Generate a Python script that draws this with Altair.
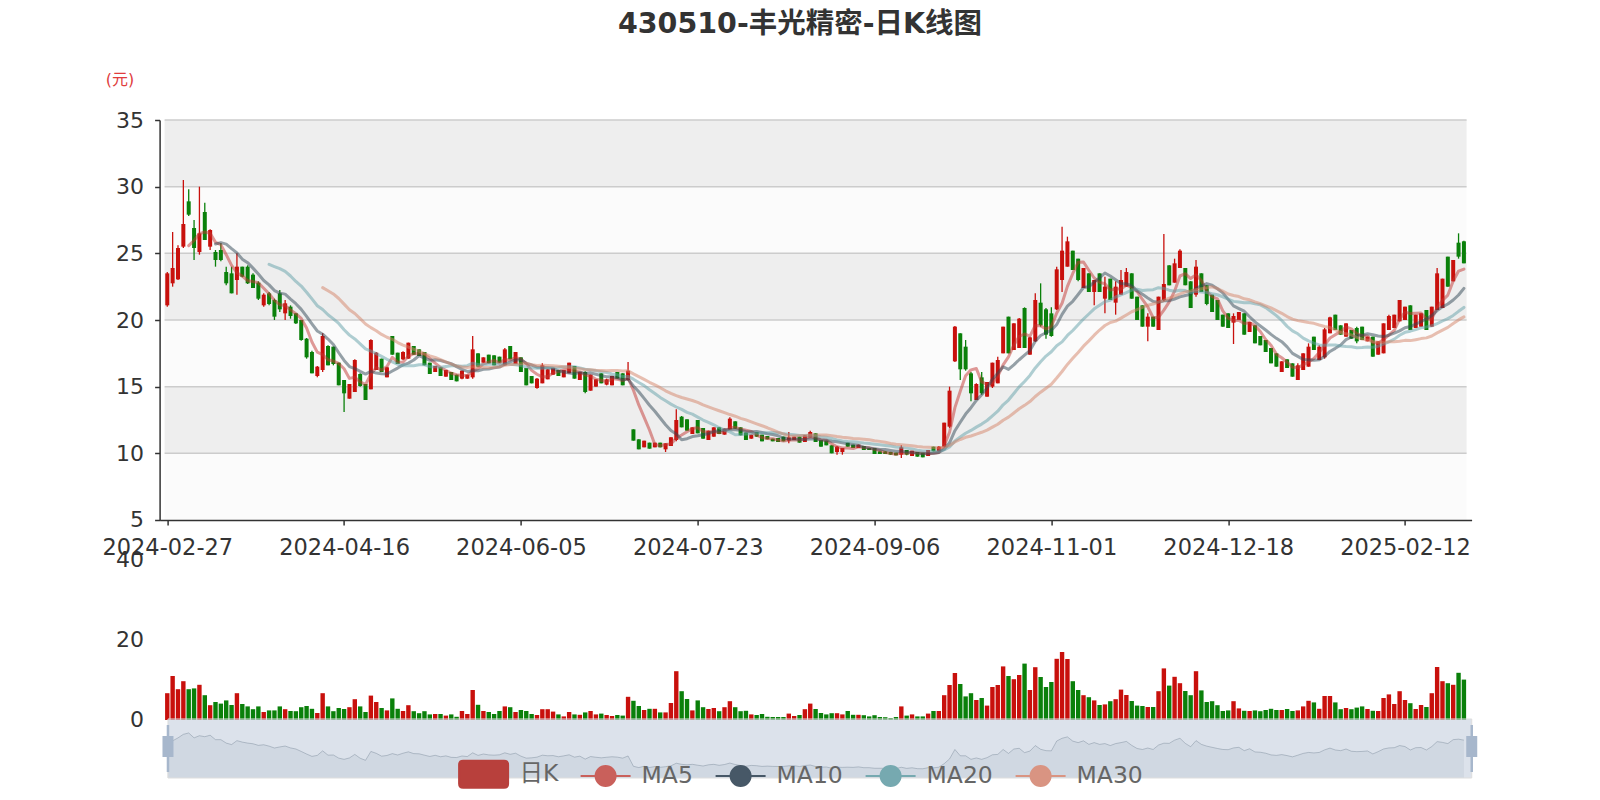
import json
import altair as alt
import pandas as pd

# ---------------- data ----------------
title_text = "430510-丰光精密-日K线图"
unit_label = "(元)"
tick_labels = ["2024-02-27", "2024-04-16", "2024-06-05", "2024-07-23",
               "2024-09-06", "2024-11-01", "2024-12-18", "2025-02-12"]
tick_index = [0, 33, 66, 99, 132, 165, 198, 231]
price_ticks = [5, 10, 15, 20, 25, 30, 35]
volume_ticks = [0, 20, 40]
legend_names = ["日K", "MA5", "MA10", "MA20", "MA30"]
ma_windows = [5, 10, 20, 30]

opens = [
    21.1, 22.75, 23.05, 25.5, 28.9, 26.9, 25.1, 28.1, 25.5, 25.1,
    25.25, 23.6, 23.5, 23.0, 24.0, 24.0, 23.4, 22.8, 21.1, 22.0,
    21.5, 22.0, 20.5, 21.0, 20.5, 20.0, 18.6, 17.6, 15.8, 16.25,
    18.05, 18.0, 16.8, 15.5, 14.1, 14.6, 15.95, 15.2, 14.8, 16.25,
    17.1, 15.7, 18.8, 17.55, 17.05, 17.1, 18.05, 17.8, 17.6, 16.8,
    16.1, 16.45, 15.75, 16.1, 15.9, 15.6, 15.6, 15.7, 17.5, 16.8,
    17.4, 17.35, 17.25, 16.6, 18.05, 16.7, 17.2, 16.4, 15.8, 14.9,
    15.25, 15.55, 15.9, 16.25, 15.7, 16.0, 16.55, 15.5, 16.1, 14.7,
    15.0, 16.0, 15.15, 15.1, 16.1, 16.0, 15.5, 11.8, 11.05, 10.45,
    10.8, 10.45, 10.8, 10.3, 10.55, 11.0, 12.75, 12.55, 11.45, 12.5,
    11.9, 11.0, 11.25, 11.95, 11.4, 11.8, 12.4, 11.95, 11.55, 11.1,
    11.6, 11.4, 11.3, 11.1, 11.15, 11.25, 10.95, 11.0, 11.25, 10.85,
    11.2, 11.5, 11.0, 10.95, 10.6, 10.1, 10.1, 10.8, 10.65, 10.4,
    10.55, 10.4, 10.4, 10.15, 10.15, 10.1, 10.05, 9.9, 10.25, 9.8,
    10.1, 10.05, 9.8, 10.5, 10.15, 10.5, 12.0, 16.9, 19.0, 18.0,
    16.0, 14.0, 15.7, 14.25, 15.0, 15.25, 17.5, 20.25, 17.75, 17.9,
    20.9, 17.4, 18.4, 21.3, 20.8, 20.5, 20.8, 23.0, 24.0, 25.2,
    24.6, 22.4, 23.5, 22.1, 23.5, 21.6, 23.1, 21.3, 21.9, 22.5,
    23.5, 21.75, 21.1, 19.5, 20.25, 19.25, 21.5, 24.1, 22.8, 23.9,
    23.9, 22.9, 21.9, 23.5, 22.6, 21.9, 21.5, 20.4, 20.5, 19.8,
    20.0, 20.5, 19.1, 19.6, 18.8, 18.5, 17.9, 17.5, 16.1, 17.05,
    16.75, 15.5, 16.25, 16.5, 18.75, 17.0, 17.2, 19.0, 20.4, 19.6,
    18.75, 19.25, 19.4, 19.5, 18.4, 18.75, 17.4, 17.5, 19.25, 19.4,
    19.9, 20.0, 21.1, 19.4, 19.5, 20.75, 19.5, 20.75, 20.9, 24.75,
    22.9, 25.8, 25.9,
]
closes = [
    23.5, 23.9, 25.4, 27.2, 27.9, 25.4, 26.5, 26.0, 26.75, 24.5,
    24.5, 22.75, 22.0, 24.0, 23.25, 22.75, 22.4, 21.6, 21.9, 21.2,
    20.25, 20.8, 21.25, 20.3, 19.75, 18.5, 17.2, 16.0, 16.5, 18.8,
    16.6, 16.7, 15.1, 14.5, 15.2, 17.0, 15.05, 14.0, 18.5, 17.55,
    16.1, 16.45, 17.4, 16.7, 17.6, 18.3, 17.4, 17.3, 16.6, 15.95,
    16.55, 15.8, 16.25, 15.5, 15.4, 16.2, 15.9, 17.8, 16.5, 17.2,
    16.75, 16.6, 16.8, 17.8, 17.05, 17.6, 16.1, 15.1, 15.25, 15.6,
    16.6, 16.3, 16.4, 15.8, 16.25, 16.8, 15.6, 16.1, 14.6, 15.9,
    15.55, 15.25, 15.55, 15.8, 15.6, 15.1, 16.2, 10.95, 10.3, 10.95,
    10.35, 10.8, 10.45, 10.75, 11.2, 12.5, 11.95, 11.7, 11.95, 11.5,
    11.1, 11.7, 11.95, 11.45, 11.85, 12.6, 11.85, 11.35, 11.0, 11.4,
    11.25, 10.9, 11.05, 10.9, 10.85, 10.9, 11.2, 11.25, 10.8, 11.35,
    11.6, 10.85, 10.5, 10.6, 10.0, 10.5, 10.4, 10.5, 10.4, 10.65,
    10.25, 10.25, 9.95, 9.95, 9.95, 9.9, 9.85, 10.45, 9.9, 10.2,
    9.75, 9.7, 10.25, 10.15, 10.5, 12.3, 14.7, 19.5, 16.3, 16.3,
    14.5, 15.2, 14.5, 15.35, 16.8, 17.0, 19.5, 17.5, 19.75, 20.1,
    17.9, 18.7, 21.5, 19.6, 18.9, 18.8, 23.8, 25.2, 25.9, 23.75,
    23.0, 23.9, 22.1, 23.0, 22.1, 22.5, 21.5, 22.5, 23.0, 23.6,
    21.6, 20.0, 19.5, 20.25, 19.5, 21.75, 22.7, 22.6, 24.25, 25.2,
    22.6, 20.9, 24.0, 22.1, 21.2, 20.6, 20.0, 19.5, 19.4, 20.3,
    20.6, 18.9, 19.85, 18.25, 18.1, 17.6, 16.75, 16.5, 16.9, 16.4,
    15.75, 16.6, 17.5, 18.0, 17.75, 18.0, 19.3, 20.2, 19.25, 18.9,
    19.75, 18.6, 18.4, 18.5, 18.75, 17.25, 18.4, 19.75, 20.3, 20.4,
    21.5, 21.0, 19.25, 20.4, 20.5, 19.25, 21.0, 23.5, 23.1, 22.5,
    24.5, 24.75, 24.25,
]
highs = [
    23.6, 26.6, 25.6, 30.5, 29.8, 27.5, 30.0, 28.8, 26.8, 25.25,
    25.75, 24.0, 24.0, 25.0, 24.0, 24.1, 23.5, 22.9, 22.0, 22.1,
    21.6, 22.25, 21.5, 21.1, 20.5, 20.0, 18.65, 17.7, 16.55, 19.0,
    18.1, 18.0, 16.8, 15.5, 15.2, 17.05, 16.0, 15.2, 18.55, 17.6,
    17.1, 16.5, 18.8, 17.55, 17.65, 18.3, 18.05, 17.8, 17.6, 16.8,
    16.55, 16.45, 16.25, 16.1, 15.9, 16.2, 15.9, 18.8, 17.5, 17.2,
    17.4, 17.35, 17.25, 17.9, 18.05, 17.6, 17.2, 16.4, 15.8, 15.65,
    16.75, 16.3, 16.4, 16.25, 16.25, 16.8, 16.55, 16.1, 16.15, 15.9,
    15.55, 16.0, 15.6, 15.8, 16.1, 16.0, 16.85, 11.8, 11.05, 10.95,
    10.8, 10.8, 10.8, 10.75, 11.2, 13.3, 12.8, 12.55, 11.95, 12.5,
    11.9, 11.7, 11.95, 11.95, 11.85, 12.7, 12.4, 11.95, 11.55, 11.4,
    11.6, 11.4, 11.3, 11.1, 11.15, 11.25, 11.6, 11.25, 11.25, 11.35,
    11.7, 11.5, 11.0, 10.95, 10.6, 10.55, 10.4, 10.8, 10.65, 10.65,
    10.55, 10.4, 10.4, 10.15, 10.15, 10.1, 10.05, 10.6, 10.25, 10.2,
    10.1, 10.05, 10.25, 10.5, 10.55, 12.3, 15.0, 19.55, 19.0, 18.5,
    16.1, 15.25, 16.1, 15.35, 16.8, 17.25, 19.5, 20.25, 19.75, 20.15,
    20.95, 18.75, 22.0, 22.75, 20.9, 20.95, 24.0, 27.0, 26.25, 25.2,
    24.6, 23.9, 23.5, 23.0, 23.5, 23.25, 23.1, 22.9, 23.75, 23.9,
    23.5, 21.75, 21.1, 20.5, 20.25, 21.75, 26.45, 24.1, 24.6, 25.3,
    23.9, 22.9, 24.5, 23.5, 22.6, 21.9, 21.5, 20.4, 20.5, 20.5,
    20.6, 20.5, 19.85, 19.6, 18.8, 18.5, 17.9, 17.5, 16.9, 17.05,
    16.75, 16.75, 17.5, 18.25, 18.75, 18.1, 19.4, 20.25, 20.4, 19.6,
    19.75, 19.25, 19.5, 19.5, 18.75, 18.75, 18.4, 19.75, 20.4, 20.4,
    21.5, 21.0, 21.1, 20.4, 20.5, 20.75, 21.0, 23.9, 23.1, 24.75,
    24.5, 26.5, 25.95,
]
lows = [
    21.0, 22.5, 23.0, 25.4, 27.8, 24.5, 24.9, 26.0, 25.25, 24.0,
    24.4, 22.6, 22.0, 21.9, 23.2, 22.7, 22.4, 21.5, 21.0, 21.1,
    20.0, 20.6, 20.0, 20.1, 19.7, 18.45, 17.1, 16.0, 15.7, 16.1,
    16.6, 16.6, 15.1, 13.1, 14.1, 14.6, 15.0, 14.0, 14.8, 16.25,
    16.1, 15.7, 17.4, 16.7, 17.0, 17.1, 17.4, 17.3, 16.6, 15.95,
    16.1, 15.8, 15.75, 15.5, 15.4, 15.55, 15.6, 15.6, 16.5, 16.8,
    16.75, 16.6, 16.8, 16.6, 17.05, 16.7, 16.1, 15.1, 15.25, 14.85,
    15.25, 15.55, 15.9, 15.8, 15.7, 16.0, 15.6, 15.5, 14.5, 14.7,
    15.0, 15.25, 15.1, 15.1, 15.6, 15.1, 15.45, 10.95, 10.3, 10.45,
    10.35, 10.45, 10.45, 10.1, 10.55, 10.9, 11.95, 11.7, 11.45, 11.5,
    11.1, 11.0, 11.25, 11.45, 11.4, 11.8, 11.85, 11.35, 11.0, 11.1,
    11.25, 10.9, 11.05, 10.9, 10.85, 10.9, 10.75, 11.0, 10.8, 10.85,
    11.2, 10.85, 10.5, 10.6, 10.0, 9.9, 9.9, 10.5, 10.4, 10.4,
    10.25, 10.25, 9.95, 9.95, 9.95, 9.9, 9.85, 9.65, 9.85, 9.8,
    9.75, 9.7, 9.8, 10.15, 10.15, 10.45, 11.9, 16.85, 15.5, 16.2,
    13.9, 14.0, 14.4, 14.25, 14.9, 15.25, 17.5, 17.5, 17.75, 17.9,
    17.9, 17.4, 18.35, 19.5, 18.6, 18.75, 20.75, 22.1, 24.0, 23.75,
    22.9, 22.4, 22.1, 21.1, 22.1, 20.5, 21.5, 20.4, 21.9, 22.5,
    21.6, 20.0, 19.5, 18.4, 19.5, 19.25, 21.4, 22.6, 22.8, 23.9,
    22.6, 20.9, 21.75, 22.1, 21.1, 20.6, 20.0, 19.5, 19.4, 18.2,
    20.0, 18.9, 19.1, 18.25, 18.1, 17.6, 16.75, 16.5, 16.1, 16.4,
    15.75, 15.5, 16.25, 16.5, 17.75, 17.0, 17.1, 19.0, 19.25, 18.9,
    18.75, 18.6, 18.25, 18.5, 18.4, 17.25, 17.4, 17.5, 19.25, 19.4,
    19.9, 20.0, 19.25, 19.4, 19.5, 19.25, 19.5, 20.75, 20.9, 22.5,
    22.9, 24.6, 24.25,
]
volumes = [
    6.7, 11.0, 7.7, 9.7, 7.7, 7.9, 8.8, 6.2, 3.7, 4.5,
    4.1, 4.9, 3.75, 6.7, 4.0, 3.4, 2.7, 3.4, 2.0, 2.4,
    2.4, 3.4, 2.7, 2.25, 2.2, 3.2, 3.5, 2.8, 1.75, 6.7,
    3.4, 2.2, 3.0, 2.75, 3.2, 5.2, 3.4, 2.0, 6.1, 4.5,
    3.0, 2.4, 5.4, 2.8, 2.25, 3.7, 2.2, 1.7, 2.2, 1.4,
    1.5, 1.5, 1.1, 1.4, 0.8, 2.25, 1.5, 7.5, 3.8, 2.25,
    2.0, 1.5, 2.25, 3.4, 3.2, 2.0, 2.5, 2.25, 1.5, 1.25,
    2.7, 2.7, 2.1, 1.4, 0.9, 2.0, 1.4, 1.3, 1.9, 2.25,
    1.4, 1.6, 1.25, 1.0, 1.25, 1.1, 5.8, 4.8, 3.5, 2.5,
    2.8, 2.8, 1.9, 1.9, 4.25, 12.2, 7.2, 5.25, 2.4, 4.9,
    3.2, 2.75, 3.0, 2.2, 3.2, 4.7, 3.2, 2.2, 2.3, 1.4,
    1.25, 1.5, 0.8, 0.75, 0.75, 0.75, 1.6, 1.0, 1.25, 2.7,
    4.1, 2.75, 1.75, 1.4, 1.7, 1.7, 1.4, 2.25, 1.3, 1.3,
    1.2, 0.9, 1.2, 0.75, 0.7, 0.5, 0.75, 3.4, 1.1, 1.4,
    0.9, 0.9, 1.6, 2.25, 2.25, 6.2, 8.75, 11.75, 9.0, 5.9,
    6.7, 5.0, 5.5, 3.6, 8.25, 8.75, 13.4, 11.0, 10.2, 11.25,
    14.1, 7.5, 13.2, 10.75, 8.25, 9.5, 15.3, 17.0, 15.25, 9.7,
    7.5, 6.2, 5.7, 4.9, 3.75, 3.9, 4.7, 5.2, 7.6, 6.25,
    4.75, 3.6, 3.5, 3.25, 3.25, 7.2, 12.9, 8.6, 10.8, 9.2,
    7.25, 6.2, 12.2, 7.4, 4.5, 4.7, 3.7, 2.25, 2.4, 4.7,
    2.9, 2.3, 2.25, 2.4, 2.2, 2.5, 2.8, 2.5, 2.5, 2.75,
    2.25, 2.4, 3.4, 4.8, 4.4, 2.8, 6.0, 6.0, 4.4, 2.7,
    3.0, 2.7, 3.1, 3.4, 2.75, 2.3, 2.25, 5.5, 6.4, 4.0,
    7.2, 5.0, 4.2, 2.75, 3.75, 3.25, 6.7, 13.25, 9.7, 9.2,
    8.8, 11.8, 10.1,
]

# ---------------- styling ----------------
FONT = "DejaVu Sans, Noto Sans CJK SC"
UP, DOWN = "#c8100c", "#0a800a"
MA_COLORS = ["#c23531", "#2f4554", "#61a0a8", "#d48265"]
LEGEND_COLORS = ["#b8403c", "#c9605b", "#475867", "#76a9b0", "#d99482"]
ROUND_RECT = ("M-0.82,-0.54 L0.82,-0.54 Q0.98,-0.54 0.98,-0.38 L0.98,0.38 "
              "Q0.98,0.54 0.82,0.54 L-0.82,0.54 Q-0.98,0.54 -0.98,0.38 "
              "L-0.98,-0.38 Q-0.98,-0.54 -0.82,-0.54 Z")
LINE_DOT = ("M-1,0 L1,0 M0.4,0 A0.4,0.4 0 1,1 -0.4,0 "
            "A0.4,0.4 0 1,1 0.4,0 Z")
LEGEND_SHAPES = [ROUND_RECT, LINE_DOT, LINE_DOT, LINE_DOT, LINE_DOT]

PLOT_W, PLOT_H = 1312, 658
PRICE_PX = 400          # price panel height inside the plot area
PAD_L, PAD_T = 151.6, 112

n = len(closes)
df = pd.DataFrame({"i": list(range(n)), "open": opens, "close": closes,
                   "high": highs, "low": lows, "vol": volumes})
df["dir"] = ["up" if c >= o else "down" for o, c in zip(opens, closes)]

label_expr = "{}[indexof({}, datum.value)]".format(json.dumps(tick_labels), json.dumps(tick_index))

x_scale = alt.Scale(domain=[-0.5, n - 0.5], nice=False, zero=False)
x_axis_def = alt.Axis(
    values=tick_index, labelExpr=label_expr, orient="bottom",
    offset=-(PLOT_H - PRICE_PX), grid=False, domain=True, domainColor="#333",
    domainWidth=1.5, ticks=True, tickColor="#333", tickSize=5, tickWidth=1.5,
    labelFontSize=22.5, labelColor="#333", labelFont=FONT, labelPadding=12,
    labelAngle=0, labelOverlap=False, labelFlush=False, zindex=1, title=None)


def xf(field):
    return alt.X(field, scale=x_scale, axis=x_axis_def, title=None)


def xd(v):
    return alt.XDatum(v, scale=x_scale, axis=x_axis_def, title=None)


price_scale = alt.Scale(domain=[5, 35], range=[PRICE_PX, 0], nice=False, zero=False)
vol_scale = alt.Scale(domain=[0, 40], range=[600, 440], nice=False, zero=True)
slider_scale = alt.Scale(domain=[5, 35], range=[PLOT_H, 599], nice=False, zero=False)

price_axis = alt.Axis(
    values=price_ticks, orient="left", grid=False, domain=True, domainColor="#333",
    domainWidth=1.5, ticks=True, tickColor="#333", tickSize=5, tickWidth=1.5,
    labelFontSize=22, labelColor="#333", labelFont=FONT, labelPadding=11,
    title=unit_label, titleAngle=0, titleX=-40, titleY=-41, titleAlign="center",
    titleBaseline="middle", titleFontSize=16, titleFontWeight="normal",
    titleColor="#e03c3c", titleFont=FONT, zindex=1)
vol_axis = alt.Axis(
    values=volume_ticks, orient="left", grid=False, domain=False, ticks=False,
    labelFontSize=22, labelColor="#333", labelFont=FONT, labelPadding=16, title=None)

dir_color = alt.Color("dir:N", scale=alt.Scale(domain=["up", "down"], range=[UP, DOWN]), legend=None)

# ---------------- price panel ----------------
band_df = pd.DataFrame({"lo": price_ticks[:-1], "hi": price_ticks[1:]})
band_df["shade"] = ["light" if k % 2 == 0 else "dark" for k in range(len(band_df))]

bands_light = alt.Chart(band_df).transform_filter(alt.datum.shade == "light").mark_rect(
    color="#fbfbfb").encode(
    x=xd(-0.5), x2=alt.datum(n - 0.5),
    y=alt.Y("lo:Q", scale=price_scale, axis=price_axis), y2="hi:Q")
bands_dark = alt.Chart(band_df).transform_filter(alt.datum.shade == "dark").mark_rect(
    color="#eeeeee").encode(
    x=xd(-0.5), x2=alt.datum(n - 0.5),
    y=alt.Y("lo:Q", scale=price_scale, axis=None), y2="hi:Q")
grid = alt.Chart(pd.DataFrame({"v": price_ticks[1:]})).mark_rule(
    color="#cccccc", strokeWidth=1.5).encode(
    x=xd(-0.5), x2=alt.datum(n - 0.5),
    y=alt.Y("v:Q", scale=price_scale, axis=None))

wick = alt.Chart(df).mark_rule(strokeWidth=1.3).encode(
    x=xf("i:Q"), y=alt.Y("low:Q", scale=price_scale, axis=None), y2="high:Q", color=dir_color)
body = alt.Chart(df).mark_bar(size=4).encode(
    x=xf("i:Q"), y=alt.Y("open:Q", scale=price_scale, axis=None), y2="close:Q", color=dir_color)


def ma_layer(k, color):
    return alt.Chart(df).transform_window(
        ma="mean(close)", cnt="count()", frame=[-(k - 1), 0], sort=[alt.SortField("i")]
    ).transform_filter(alt.datum.cnt == k).mark_line(
        color=color, strokeWidth=3, opacity=0.5, strokeCap="round", strokeJoin="round"
    ).encode(x=xf("i:Q"), y=alt.Y("ma:Q", scale=price_scale, axis=None))


ma_layers = [ma_layer(k, c) for k, c in zip(ma_windows, MA_COLORS)]

# ---------------- volume panel ----------------
vol = alt.Chart(df).mark_bar(size=4.4).encode(
    x=xf("i:Q"), y=alt.Y("vol:Q", scale=vol_scale, axis=vol_axis), color=dir_color)

# ---------------- data-zoom slider ----------------
s_left, s_right = 0.13, 243.46
one = pd.DataFrame({"a": [0]})


def sy(v):
    return alt.YDatum(v, scale=slider_scale, axis=None)


slider_area = alt.Chart(df).mark_area(color="#2f4554", opacity=0.09).encode(
    x=xf("i:Q"), y=alt.Y("close:Q", scale=slider_scale, axis=None), y2=alt.datum(5))
slider_line = alt.Chart(df).mark_line(color="#2f4554", opacity=0.45, strokeWidth=0.8).encode(
    x=xf("i:Q"), y=alt.Y("close:Q", scale=slider_scale, axis=None))
filler = alt.Chart(one).mark_rect(color="#a7b7cc", opacity=0.4).encode(
    x=xd(s_left), x2=alt.datum(s_right), y=sy(5), y2=alt.datum(35))
border = alt.Chart(one).mark_rect(fill="transparent", stroke="#dddddd", strokeWidth=1).encode(
    x=xd(s_left), x2=alt.datum(s_right), y=sy(5), y2=alt.datum(35))
handle_df = pd.DataFrame({"x": [s_left, s_right]})
stem = alt.Chart(handle_df).mark_rule(color="#a7b7cc", strokeWidth=2.5, yOffset=6, y2Offset=-6).encode(
    x=xf("x:Q"), y=sy(35), y2=alt.datum(5))
knob = alt.Chart(handle_df).mark_rect(color="#a7b7cc", xOffset=-5.5, x2Offset=5.5,
                                      yOffset=17, y2Offset=-21).encode(
    x=xf("x:Q"), x2="x:Q", y=sy(35), y2=alt.datum(5))

leg = alt.Legend(orient="none", legendX=298, legendY=628, direction="horizontal", title=None,
                 symbolSize=2500, symbolStrokeWidth=2, symbolOpacity=1,
                 labelFontSize=23.5, labelFont=FONT, labelColor="#666666",
                 labelOffset=10, columnPadding=18)
legend_layer = alt.Chart(pd.DataFrame({"series": legend_names})).transform_filter(
    "false").mark_point(filled=True, opacity=1).encode(
    fill=alt.Fill("series:N", scale=alt.Scale(domain=legend_names, range=LEGEND_COLORS), legend=leg),
    stroke=alt.Stroke("series:N", scale=alt.Scale(domain=legend_names, range=LEGEND_COLORS), legend=leg),
    shape=alt.Shape("series:N", scale=alt.Scale(domain=legend_names, range=LEGEND_SHAPES), legend=leg),
)

# ---------------- title (text annotation above the plot) ----------------
title_layer = alt.Chart(pd.DataFrame({"t": [title_text]})).mark_text(
    font=FONT, fontSize=28.5, fontWeight="bold", color="#333333",
    align="center", baseline="middle").encode(
    text="t:N", x=alt.value(800 - 8 - PAD_L), y=alt.value(24 - 8 - PAD_T))

layers = [bands_light, bands_dark, grid, wick, body, *ma_layers, vol,
          slider_area, slider_line, filler, border, stem, knob, legend_layer, title_layer]

chart = alt.layer(*layers).resolve_scale(y="independent").properties(
    width=PLOT_W, height=PLOT_H,
    padding={"left": PAD_L, "top": PAD_T, "right": 110, "bottom": 14},
    autosize=alt.AutoSizeParams(type="none"),
).configure(font=FONT, background="white", view=alt.ViewConfig(stroke=None))

chart.save("out.html", embed_options={"renderer": "svg", "actions": False})
